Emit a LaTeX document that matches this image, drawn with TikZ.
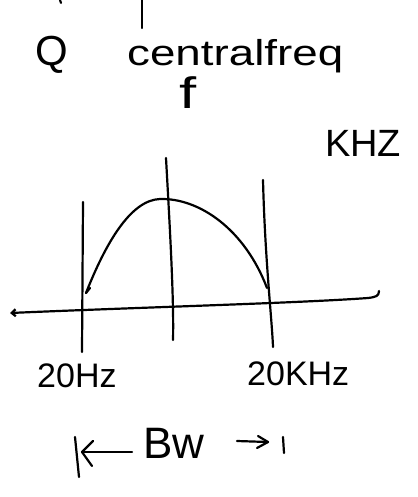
\documentclass[tikz,border=0pt]{standalone}
\usepackage{fontspec}
\setmainfont{Liberation Sans}
\usetikzlibrary{arrows.meta}
\begin{document}
\begin{tikzpicture}[x=1pt,y=-1pt,line cap=round,line join=round,
  ink/.style={line width=2.2pt,black},
  lbl/.style={inner sep=0pt,anchor=base west}]
\useasboundingbox (0,0) rectangle (417,497);
% top marks
\coordinate (t1) at (142,0); \coordinate (t2) at (142,28);
\draw[ink] (t1) -- (t2);
\coordinate (s1) at (60,0); \coordinate (s2) at (61,3);
\draw[ink] (s1) -- (s2);
% labels
\node[inner sep=0pt,anchor=base] (q) at (52,66) {\fontsize{42}{42}\selectfont Q};
\node[lbl] (cf) at (127,66) {\scalebox{1.27}[1]{\fontsize{36}{36}\selectfont centralfreq}};
\node[inner sep=0pt] (f) at (188,93) {\scalebox{1.4}[1]{\fontsize{44}{44}\selectfont f}};
\node[lbl] (khz) at (325,157) {\fontsize{38}{38}\selectfont KHZ};
% vertical lines
\coordinate (v1a) at (83,202); \coordinate (v1b) at (82,352);
\coordinate (v2a) at (166,158); \coordinate (v2b) at (173,340);
\coordinate (v3a) at (263,180); \coordinate (v3b) at (273,347);
\draw[ink] (v1a) -- (v1b);
\draw[ink] (v2a) .. controls (170,230) and (174,300) .. (v2b);
\draw[ink] (v3a) .. controls (265,260) and (272,320) .. (v3b);
% axis
\coordinate (axL) at (10,313); \coordinate (axR) at (379,291);
\draw[ink,{Straight Barb[length=4pt,width=7pt]}-] (axL) .. controls (150,307) and (300,303) .. (368,298) .. controls (376,297) and (379,296) .. (axR);
% response curve
\coordinate (cL) at (86,293); \coordinate (cP) at (160,199); \coordinate (cR) at (267,288);
\draw[ink] (cL) .. controls (105,245) and (130,200) .. (cP) .. controls (200,198) and (245,230) .. (cR);
\draw[ink] (cL) -- (90,288);
% frequency labels
\node[lbl] (lo) at (37,387) {\fontsize{34}{34}\selectfont 20Hz};
\node[lbl] (hi) at (247,385) {\fontsize{34}{34}\selectfont 20KHz};
% bandwidth
\node[lbl] (bw) at (143,458) {\fontsize{44}{44}\selectfont Bw};
\coordinate (lb1) at (75,437); \coordinate (lb2) at (79,477);
\draw[ink] (lb1) -- (lb2);
\coordinate (la) at (82,452);
\draw[ink] (132,452) -- (la);
\draw[ink] (93,441) -- (la) -- (92,466);
\coordinate (ra) at (268,442);
\draw[ink] (237,441) -- (ra);
\draw[ink] (258,436) -- (ra) -- (257,448);
\coordinate (rb1) at (283,437); \coordinate (rb2) at (284,453);
\draw[ink] (rb1) -- (rb2);
\end{tikzpicture}
\end{document}
